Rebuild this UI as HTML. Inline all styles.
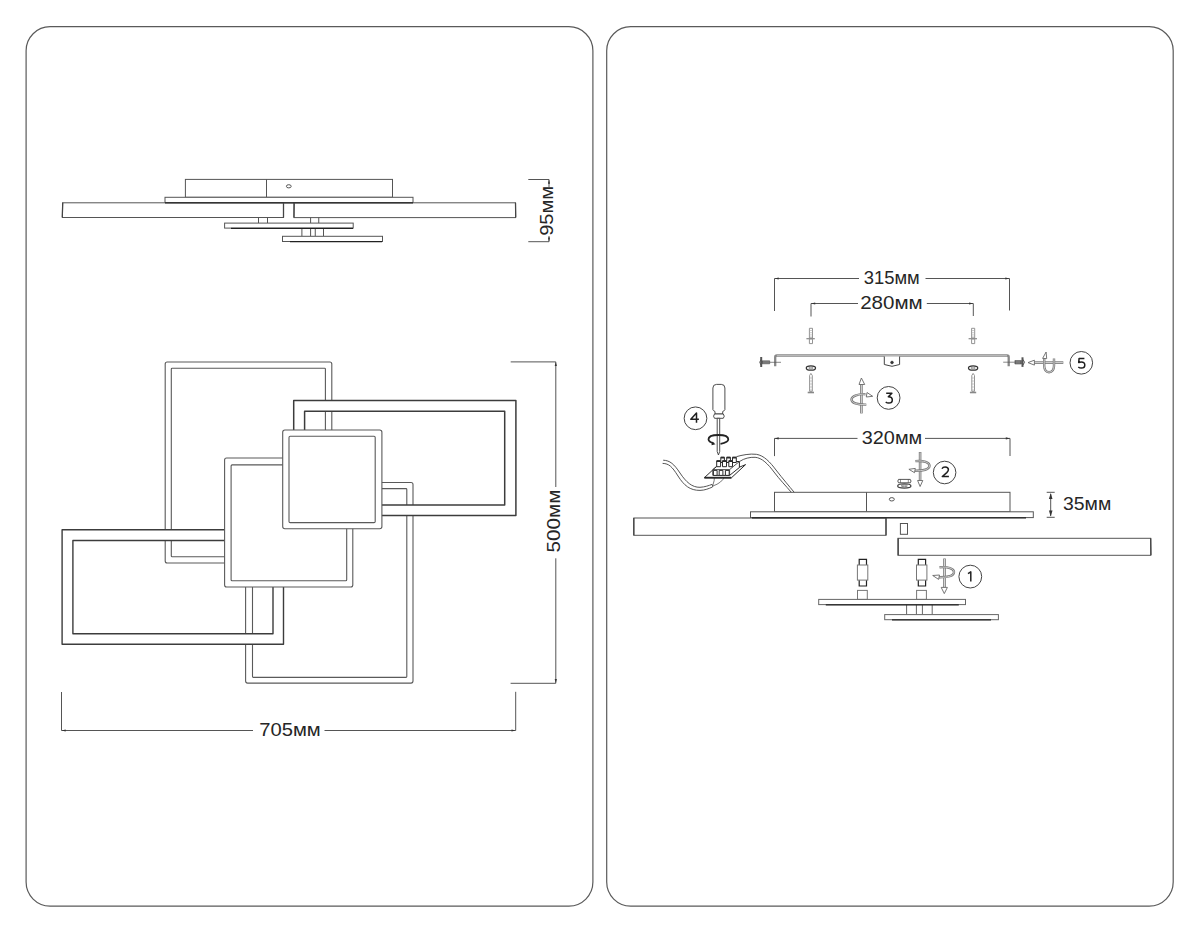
<!DOCTYPE html>
<html><head><meta charset="utf-8"><style>
html,body{margin:0;padding:0;background:#fff;width:1200px;height:933px;overflow:hidden}
svg{display:block}
text{font-family:"Liberation Sans",sans-serif;fill:#262626}
</style></head><body>
<svg width="1200" height="933" viewBox="0 0 1200 933">
<g fill="none" stroke="#5a5a5a" stroke-width="1.2">
<rect x="26.1" y="26.7" width="566.8" height="879.4" rx="24"/>
<rect x="606.7" y="26.7" width="566.5" height="879.4" rx="24"/>
</g>

<!-- LEFT: side view -->
<g id="side" fill="#fff" stroke="#555" stroke-width="1">
<rect x="185.4" y="179.4" width="207.1" height="17.9"/>
<line x1="266.5" y1="179.4" x2="266.5" y2="197.3"/>
<ellipse cx="288.8" cy="186.3" rx="2.4" ry="1.6"/>
<rect x="165" y="197.3" width="248" height="5.5"/>
<rect x="62.5" y="202.8" width="221" height="14.7"/>
<rect x="294" y="202.8" width="221.5" height="14.8"/>
<path d="M258.5 217.5V223.1M267.5 217.5V223.1M310.6 217.5V223.1M318.75 217.5V223.1"/>
<rect x="224.6" y="223.1" width="128.6" height="5"/>
<path d="M301.9 228.1V236.3M310.6 228.1V236.3M315.25 228.1V236.3M323.5 228.1V236.3"/>
<rect x="282.5" y="236.3" width="100" height="5.2"/>
</g>
<g stroke="#222" stroke-width="1.3" fill="none">
<path d="M165 202.8H413"/>
<path stroke="#444" d="M62.8 202.8L62.2 217.5M283.5 202.8V217.5M294.2 202.8L293.9 217.5M515.5 202.8L515.8 217.6"/>
<path d="M231 228.3H353M290 241.7H382"/>
</g>
<!-- 95mm -->
<g stroke="#555" stroke-width="1" fill="none">
<path d="M528.3 179.5H549V187M549 236V241.7H528.3"/>
</g>
<text transform="translate(553,210.9) rotate(-90)" font-size="19" text-anchor="middle" textLength="49.8" lengthAdjust="spacingAndGlyphs">95мм</text>

<!-- LEFT: top view -->
<g fill="#fff" fill-rule="evenodd" stroke="#5a5a5a" stroke-width="1.1" stroke-linejoin="round">
<!-- A -->
<path d="M167.20 362H329.80Q331.8 362 331.8 364.00V561.00Q331.8 563 329.80 563H167.20Q165.2 563 165.2 561.00V364.00Q165.2 362 167.20 362Z M172.10 368.3H324.60Q325.4 368.3 325.4 369.10V555.90Q325.4 556.7 324.60 556.7H172.10Q171.3 556.7 171.3 555.90V369.10Q171.3 368.3 172.10 368.3Z"/>
<!-- E -->
<path d="M247.60 482.5H411.00Q413 482.5 413 484.50V681.10Q413 683.1 411.00 683.1H247.60Q245.6 683.1 245.6 681.10V484.50Q245.6 482.5 247.60 482.5Z M253.30 488.6H406.00Q406.8 488.6 406.8 489.40V676.60Q406.8 677.4 406.00 677.4H253.30Q252.5 677.4 252.5 676.60V489.40Q252.5 488.6 253.30 488.6Z"/>
<!-- B -->
<path stroke="#3c3c3c" stroke-width="1.5" d="M293.7 400.6H515.9V515.4H293.7Z M304.6 411.3H504.7V505H304.6Z"/>
<!-- F -->
<path stroke="#3c3c3c" stroke-width="1.4" d="M62.1 529.7H283.5V644.3H62.1Z M72.9 540.5H273V633.8H72.9Z"/>
<!-- D -->
<path d="M226.60 458H350.80Q352.8 458 352.8 460.00V585.00Q352.8 587 350.80 587H226.60Q224.6 587 224.6 585.00V460.00Q224.6 458 226.60 458Z"/>
<path fill="none" d="M232.10 464.9H345.70Q346.7 464.9 346.7 465.90V579.70Q346.7 580.7 345.70 580.7H232.10Q231.1 580.7 231.1 579.70V465.90Q231.1 464.9 232.10 464.9Z"/>
<!-- C -->
<path d="M284.90 430H379.70Q381.9 430 381.9 432.20V526.50Q381.9 528.7 379.70 528.7H284.90Q282.7 528.7 282.7 526.50V432.20Q282.7 430 284.90 430Z"/>
<path fill="none" d="M290.20 436.2H374.00Q375.2 436.2 375.2 437.40V521.40Q375.2 522.6 374.00 522.6H290.20Q289 522.6 289 521.40V437.40Q289 436.2 290.20 436.2Z"/>
</g>
<!-- 500mm -->
<g stroke="#555" stroke-width="1" fill="none">
<path d="M510.7 361.9H555.8V487M555.8 558.3V683.3H510.6"/>
<path d="M61.5 692V730.5H253M324.5 730.5H515.7V691.8"/>
</g>
<text transform="translate(560.3,521.1) rotate(-90)" font-size="19" text-anchor="middle" textLength="62.9" lengthAdjust="spacingAndGlyphs">500мм</text>
<text x="289.95" y="736" font-size="19" text-anchor="middle" textLength="61.5" lengthAdjust="spacingAndGlyphs">705мм</text>

<!-- RIGHT PANEL -->
<g stroke="#555" stroke-width="1" fill="none">
<path d="M774.5 311V278.5H859M925.5 278.5H1009.5V310.5"/>
<path d="M811 316.5V303.5H858M926.8 303.5H973.3V316"/>
<path d="M774.5 456.1V438.4H857.5M925 438.4H1010V456"/>
<path d="M1046.7 492.3H1054.7M1046.7 517.3H1054.7M1050.7 494V516"/>
</g>
<text x="891.7" y="284" font-size="19" text-anchor="middle" textLength="56" lengthAdjust="spacingAndGlyphs">315мм</text>
<text x="891.45" y="309" font-size="19" text-anchor="middle" textLength="62.5" lengthAdjust="spacingAndGlyphs">280мм</text>
<text x="892" y="443.7" font-size="19" text-anchor="middle" textLength="60.5" lengthAdjust="spacingAndGlyphs">320мм</text>
<text x="1087.1" y="510.4" font-size="19" text-anchor="middle" textLength="48.3" lengthAdjust="spacingAndGlyphs">35мм</text>

<!-- mounting plate -->
<g fill="none">
<path stroke="#888" stroke-width="2.3" d="M775.2 366.3V357.2Q775.2 355.5 776.9 355.5H1007Q1008.7 355.5 1008.7 357.2V366.3"/>
<path stroke="#c4c4c4" stroke-width="0.8" d="M776.9 355.5H1007"/>
</g>
<g stroke="#444" stroke-width="1" fill="#fff">
<path d="M884.3 356.5V364.5L892 366.3L899.6 364.5V356.5"/>
<circle cx="892" cy="362.5" r="1.3" fill="#333"/>
</g>

<!-- lamp body -->
<g fill="#fff" stroke="#555" stroke-width="1">
<rect x="774.5" y="492.3" width="235.5" height="19.5"/>
<line x1="866.5" y1="492.3" x2="866.5" y2="511.8"/>
<ellipse cx="891.8" cy="499.3" rx="2.5" ry="1.7"/>
<rect x="750.5" y="511.8" width="282.8" height="5.8"/>
<rect x="633.8" y="518" width="252.2" height="17.3"/>
<rect x="898" y="538.3" width="252.7" height="17"/>
<rect x="900.4" y="523.5" width="7.1" height="10.8"/>
</g>
<g stroke="#222" stroke-width="1.4" fill="none">
<path d="M752 517.9H1026"/>
<path stroke="#444" stroke-width="1.3" d="M633.8 518V535.3M886 518V535.3M898.2 538.3V555.2M1150.7 538.3L1151 555.3"/>
</g>


<!-- screws on plate -->
<g stroke="#888" stroke-width="0.9" fill="#fff">
<path d="M809.4 328.3H812.5V338H809.4Z"/>
<path d="M806.4 338.7H814.8" stroke-width="1.2"/>
<path d="M809.4 339.1H812.5V343.6H809.4Z"/>
<path d="M809.6 375.5L810.9 373.4L812.3 375.5V391.3H809.6Z"/>
<path d="M807.7 392.5H814" stroke-width="1.6"/>
<path d="M971.6 328.3H974.7V338H971.6Z"/>
<path d="M968.6 338.7H977" stroke-width="1.2"/>
<path d="M971.6 339.1H974.7V343.6H971.6Z"/>
<path d="M971.8 375.5L973.1 373.4L974.5 375.5V391.3H971.8Z"/>
<path d="M969.9 392.5H976.2" stroke-width="1.6"/>
</g>
<g stroke="#aaa" stroke-width="0.6" fill="none">
<path d="M809.4 330.5H812.5M809.4 332.7H812.5M809.4 334.9H812.5M809.4 337H812.5"/>
<path d="M971.6 330.5H974.7M971.6 332.7H974.7M971.6 334.9H974.7M971.6 337H974.7"/>
<path d="M809.6 378H812.3M809.6 381H812.3M809.6 384H812.3M809.6 387H812.3M809.6 390H812.3"/>
<path d="M971.8 378H974.5M971.8 381H974.5M971.8 384H974.5M971.8 387H974.5M971.8 390H974.5"/>
</g>
<g stroke="#333" stroke-width="1.3" fill="#fff">
<ellipse cx="810.9" cy="368" rx="4.6" ry="2.2"/>
<ellipse cx="973.1" cy="368" rx="4.6" ry="2.2"/>
</g>
<g stroke="#666" stroke-width="0.7" fill="none">
<ellipse cx="810.9" cy="368" rx="2.2" ry="0.9"/>
<ellipse cx="973.1" cy="368" rx="2.2" ry="0.9"/>
</g>
<!-- side screws -->
<g stroke="#555" fill="#666">
<path d="M761.8 360.8H769.7V363.8H761.8Z" stroke-width="0.6"/>
<path d="M761.2 357V367" stroke-width="2"/>
<path d="M761 359.5Q758.5 362.3 761 365" stroke-width="1" fill="none"/>
<path d="M769.7 362.3H781" stroke-width="0.7"/>
<path d="M1014.9 360.5H1021.6V364H1014.9Z" stroke-width="0.6"/>
<path d="M1022.5 357.3V366.9" stroke-width="2"/>
<path d="M1023 359.5Q1026 362.2 1023 365" stroke-width="1" fill="none"/>
<path d="M1003.2 362.2H1014.9" stroke-width="0.7"/>
</g>
<g stroke="#bbb" stroke-width="0.5"><path d="M764 361V363.6M766 361V363.6M768 361V363.6M1017 360.7V363.8M1019 360.7V363.8"/></g>

<!-- rotation icons: double-line ribbons -->
<g fill="none" stroke-linecap="butt" stroke-linejoin="round">
<g stroke="#777" stroke-width="2.6">
<path d="M861.4 413.4V384.5"/>
<path d="M1034.4 362.6H1063.3"/>
<path d="M944.5 558.5V587.4"/>
<path d="M920.1 452V480.5"/>
</g>
<g stroke="#d6d6d6" stroke-width="1">
<path d="M861.4 413V385"/>
<path d="M1034.8 362.6H1062.9"/>
<path d="M944.5 559V587"/>
<path d="M920.1 452.5V480.3"/>
</g>
<g stroke="#666" stroke-width="0.9" fill="#fff">
<path d="M859 384.5H864.7L861.4 378Z"/>
<path d="M1034.4 360.2V365.1L1028 362.6Z"/>
<path d="M941.2 587.4H947.4L944.3 593.6Z"/>
<path d="M917.6 480.5H922.8L920.1 486.5Z"/>
</g>
<g stroke="#777" stroke-width="2.4">
<path d="M865.5 394.2C857 393.8 851.5 396.5 851.5 399.5C851.5 403 857 404.8 866.3 404.6"/>
<path d="M1044.2 357.5V366Q1044.5 372 1049 372.2Q1053.8 372 1054 366V358.4"/>
<path d="M939.5 567.3C948 566.5 954 568.5 954 572C954 576 948 577.5 938.5 577.3"/>
<path d="M915.3 461.1C924 460.3 929.5 462.5 929.5 465.8C929.5 469.5 923 471 914.7 470.8"/>
</g>
<g stroke="#d6d6d6" stroke-width="0.9">
<path d="M865.5 394.2C857 393.8 851.5 396.5 851.5 399.5C851.5 403 857 404.8 866.3 404.6"/>
<path d="M1044.2 357.5V366Q1044.5 372 1049 372.2Q1053.8 372 1054 366V358.4"/>
<path d="M939.5 567.3C948 566.5 954 568.5 954 572C954 576 948 577.5 938.5 577.3"/>
<path d="M915.3 461.1C924 460.3 929.5 462.5 929.5 465.8C929.5 469.5 923 471 914.7 470.8"/>
</g>
<g stroke="#666" stroke-width="0.9" fill="#fff">
<path d="M867 392.5L872.7 396.3L866.3 397Z"/>
<path d="M1042.6 358.4L1046.1 352L1046.7 358.6Z"/>
<path d="M939.5 575L932.7 575.5L938.6 579.4Z"/>
<path d="M915.3 468.4L908.9 469.3L914.5 472.7Z"/>
</g>
</g>

<!-- screwdriver -->
<g stroke="#3a3a3a" stroke-width="0.9" fill="#fff">
<path d="M712.9 409.7V388Q712.9 384.4 716.5 384.4H721.3Q724.9 384.4 724.9 388V409.7Q724.9 410.5 722.7 411.5V414H715V411.5Q712.9 410.5 712.9 409.7Z"/>
<path d="M714.5 414H723.3Q725.2 416.2 723.3 418.3H714.5Q712.6 416.2 714.5 414Z"/>
<path d="M717.2 418.3V451.5L718.45 455L719.7 451.5V418.3Z"/>
</g>
<path d="M720.5 443.8Q728.3 442.5 728.3 439.3Q728.3 435 718.4 435Q708.5 435 708.5 439.3Q708.5 442 714 443.5" fill="none" stroke="#222" stroke-width="1.8"/>
<path d="M712 441.5L715.5 444.3L711.5 445.2Z" fill="#222"/>

<!-- cables -->
<g fill="none" stroke="#555" stroke-width="1">
<path d="M663.2 460.2C670 460.5 674 464 680 473C686 482 692 487.5 700 487.3C705 487 709 485.5 712 484.4"/>
<path d="M662.6 463.4C669 463.6 672 466.5 678 476C684 485.5 690 490.5 700 490.4C705 490.3 709 488.5 712.5 487"/>
<path d="M712.2 484.4L712.8 487"/>
<path d="M736.4 456.7C742 455 750 453.5 756.3 454.3C764 455.5 770 462 776 470C783 479 789 486 794.2 492.3"/>
<path d="M739.9 461.3C744 458.5 750 457 755.1 457.3C762 457.8 768 464 774 472C780 480 786 486 791.3 492.3"/>
<path d="M712.8 485.3Q714.6 481 714.5 476M712.8 486Q722 483 725 476" stroke-width="0.8"/>
</g>
<!-- terminal block -->
<g stroke="#2a2a2a" stroke-width="1" fill="#fff" stroke-linejoin="round">
<path d="M704.4 477.7L715.8 467.1H739.6L745.6 464.6L731.3 477.9Z"/>
<path d="M704.4 477.7H731.3" stroke-width="1.8"/>
<path d="M712.9 469.6L722.7 461.5H739.4V467.5L729.6 475.4H712.9Z"/>
<path d="M712.9 469.6H729.6L739.4 461.5M729.6 469.6V475.4" fill="none" stroke-width="0.8"/>
<path d="M720.8 457.3H724.4V462.5H720.8ZM726.7 457.3H730.4V462.5H726.7ZM732.5 457.3H736.3V462.5H732.5Z"/>
<path d="M716.7 460.8H720.6V466.7H716.7ZM722.5 460.8H726.5V466.7H722.5ZM728.8 460.8H732.5V466.7H728.8Z"/>
<path d="M713.4 470.4H717.1V475.4H713.4ZM719.2 470.4H722.9V475.4H719.2ZM725.4 470.4H729.2V475.4H725.4Z"/>
<path d="M720.8 457.6H724.4M726.7 457.6H730.4M732.5 457.6H736.3M716.7 461.1H720.6M722.5 461.1H726.5M728.8 461.1H732.5" stroke-width="1.6"/>
</g>


<g fill="#333" stroke="none">
<path d="M1050.7 493L1048.9 499H1052.5Z"/>
<path d="M1050.7 516.6L1048.9 510.6H1052.5Z"/>
</g>
<g stroke="#444" stroke-width="0.9" fill="#fff">
<path d="M898.5 479.4H910.3L911 481.1L910.3 482.8H898.5L897.8 481.1Z"/>
<path d="M900.5 479.4V482.8M908.3 479.4V482.8" stroke-width="0.6"/>
<ellipse cx="904.3" cy="486" rx="6.6" ry="2.1" stroke-width="1.3"/>
<ellipse cx="904.3" cy="485.9" rx="3" ry="0.9" stroke-width="0.7"/>
</g>

<g fill="#333" stroke="none"><path d="M61.5 730.5L65.7 729.4V731.6Z M515.7 730.5L511.50000000000006 729.4V731.6Z M555.8 361.9L554.6999999999999 366.09999999999997H556.9Z M555.8 683.3L554.6999999999999 679.0999999999999H556.9Z M549 179.5L547.9 183.7H550.1Z M549 241.7L547.9 237.5H550.1Z M774.5 278.5L778.7 277.4V279.6Z M1009.5 278.5L1005.3 277.4V279.6Z M811 303.5L815.2 302.4V304.6Z M973.3 303.5L969.0999999999999 302.4V304.6Z M774.5 438.4L778.7 437.29999999999995V439.5Z M1010 438.4L1005.8 437.29999999999995V439.5Z"/></g>
<!-- circles -->
<g fill="none" stroke="#444" stroke-width="1">
<circle cx="695.5" cy="418.3" r="11.35"/>
<circle cx="888.6" cy="397.9" r="11.4"/>
<circle cx="1081.3" cy="362.8" r="11.3"/>
<circle cx="944.6" cy="472.5" r="11.3"/>
<circle cx="970.3" cy="576.6" r="11.4"/>
</g>
<g fill="none" stroke="#1e1e1e" stroke-width="1.5" stroke-linejoin="round" stroke-linecap="butt">
<path d="M696.5 422.7V413.1L690.8 419.3H698.9"/>
<path d="M886.2 393.2H891.9L888.3 396.8C890.7 396.8 892.3 398.2 892.3 400C892.3 401.9 890.8 403.1 888.8 403.1C887.5 403.1 886.4 402.6 885.7 402"/>
<path d="M942 468.8C942.5 467.7 943.7 467 945.1 467C947 467 948.4 468.2 948.4 469.8C948.4 470.9 947.7 471.7 946.8 472.6L942.3 476.5H948.9"/>
<path d="M1084.4 358.4H1079.1L1078.7 362.6C1079.4 362.1 1080.3 361.9 1081.2 361.9C1083.2 361.9 1084.8 363.2 1084.8 365C1084.8 366.8 1083.3 368.1 1081.3 368.1C1080.1 368.1 1079 367.6 1078.3 367"/>
</g>

<path d="M968 573.7L970.8 571.8V581.6" fill="none" stroke="#222" stroke-width="1.5" stroke-linejoin="round"/>
<!-- lower discs -->
<g fill="#fff" stroke="#666" stroke-width="1">
<path d="M859.2 565V559.4H866.5V565M859.2 580.1V586H866.5V580.1" stroke="#222" stroke-width="1.2"/>
<rect x="857.4" y="565" width="10.4" height="15.1" stroke="#777"/>
<rect x="857.5" y="590.4" width="9.8" height="9" stroke="#777"/>
<path d="M918.3 565V559.4H925.6V565M918.3 580.1V586H925.6V580.1" stroke="#222" stroke-width="1.2"/>
<rect x="916.5" y="565" width="10.4" height="15.1" stroke="#777"/>
<rect x="916.6" y="590.4" width="9.8" height="9" stroke="#777"/>
<rect x="818.7" y="599.4" width="146.8" height="5.2"/>
<path d="M906.6 604.6V614.6M916.4 604.6V614.6M922.4 604.6V614.6M932.2 604.6V614.6"/>
<rect x="884.7" y="614.6" width="113.7" height="5.1"/>
</g>
<g stroke="#222" stroke-width="1.3" fill="none">
<path d="M825.8 604.8H958.8M892 619.9H991"/>
</g>
</svg>
</body></html>
